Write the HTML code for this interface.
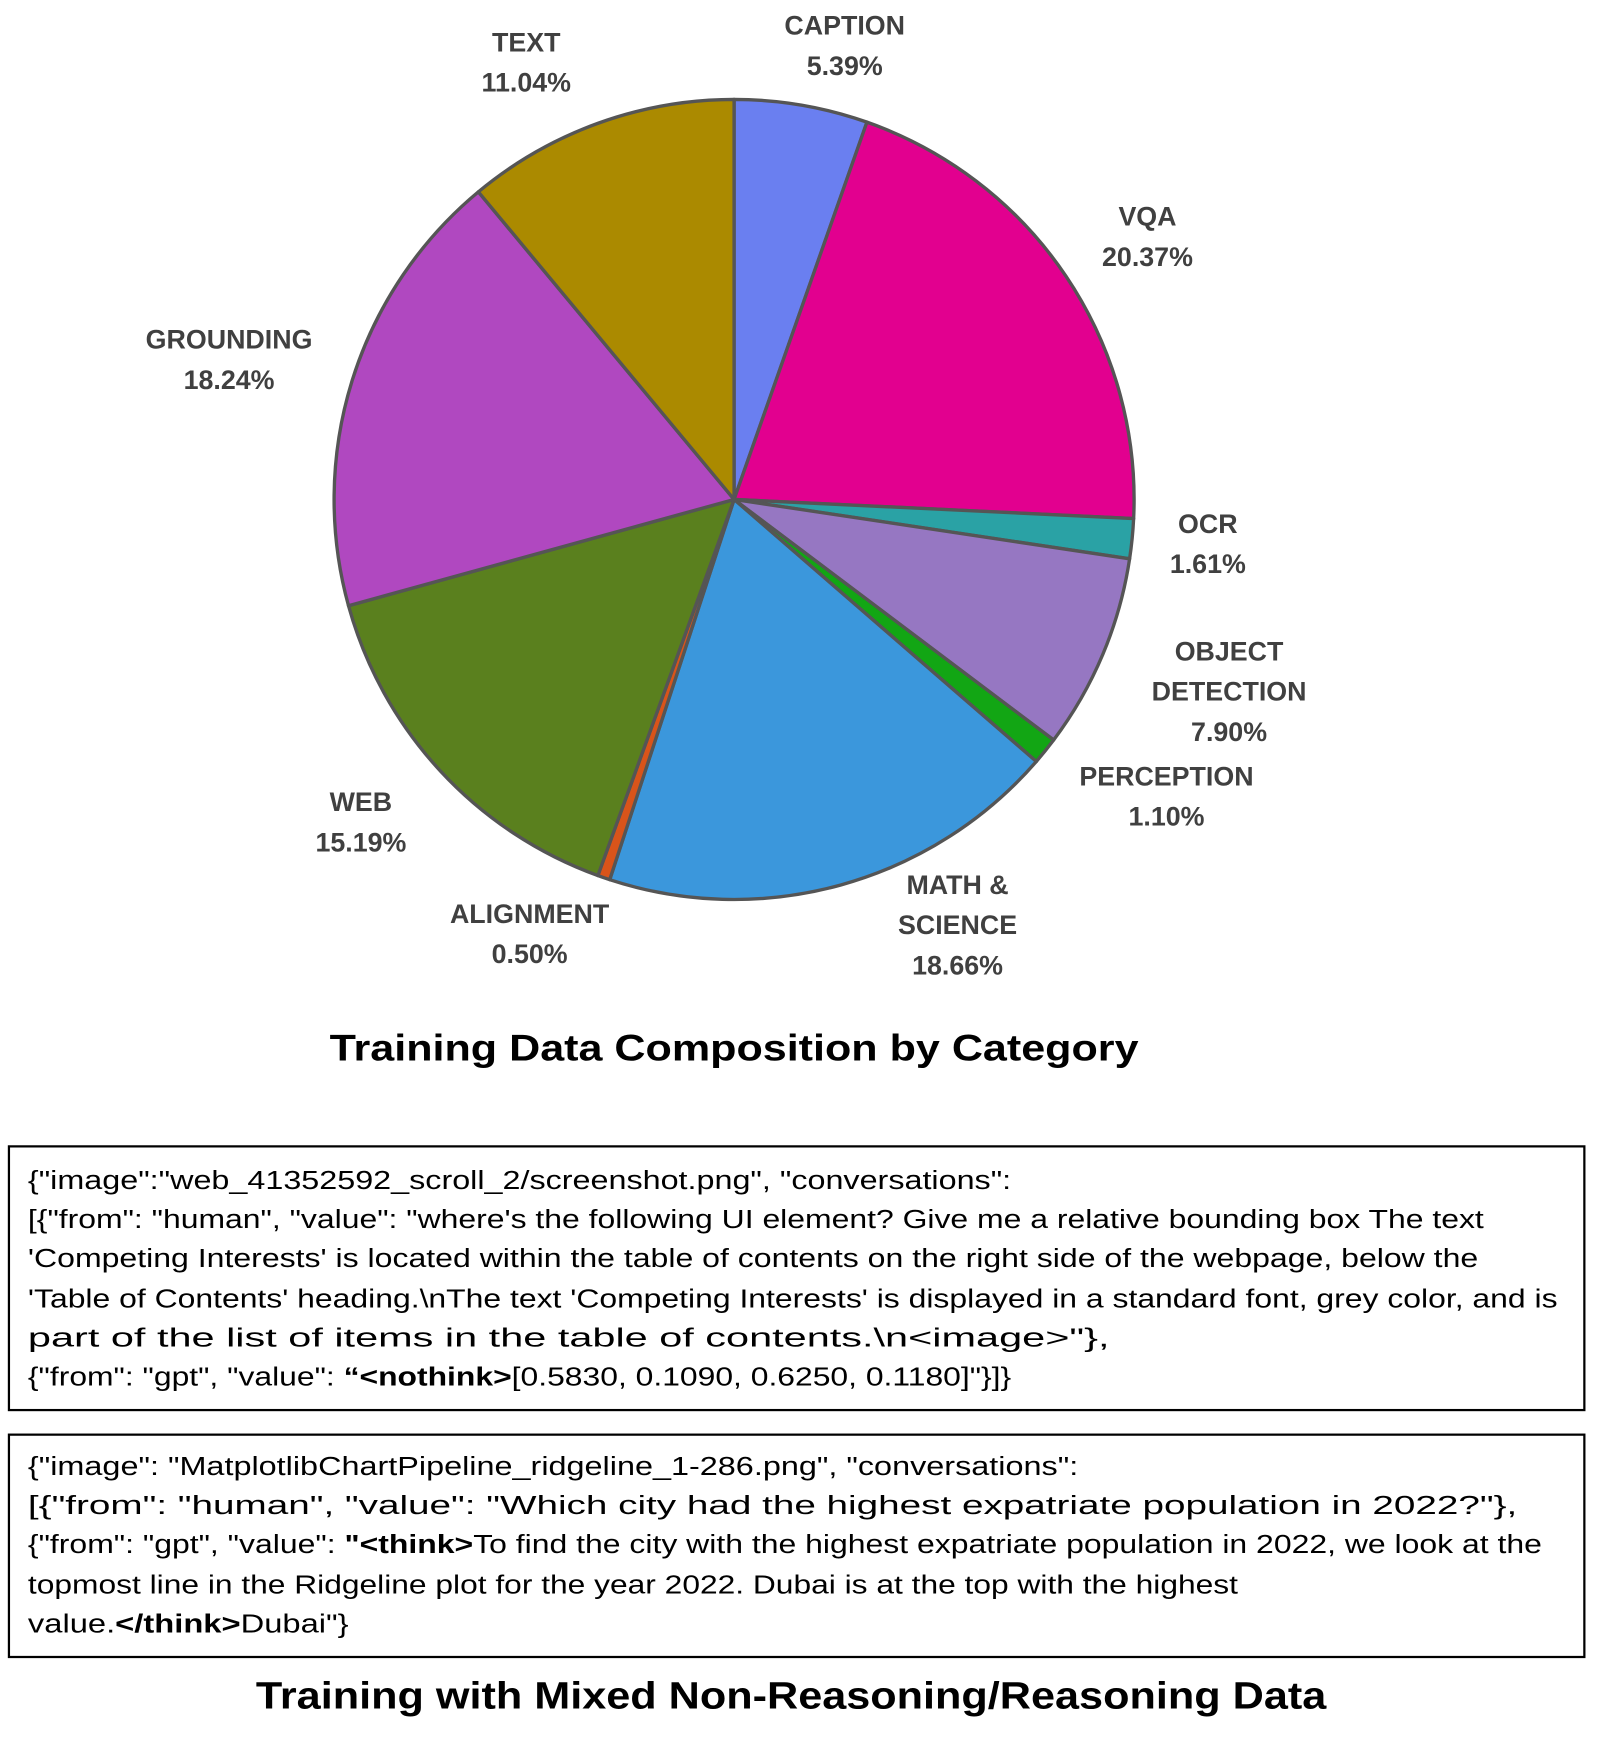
<!DOCTYPE html>
<html><head><meta charset="utf-8"><style>
html,body{margin:0;padding:0;background:#fff;}
svg{display:block;}
.l{font-family:"Liberation Sans",sans-serif;font-weight:bold;font-size:24px;fill:#404040;text-anchor:middle;}
.t{font-family:"Liberation Sans",sans-serif;font-size:23px;fill:#000;}
.h{font-family:"Liberation Sans",sans-serif;font-weight:bold;fill:#000;text-anchor:middle;}
</style></head><body>
<svg width="1600" height="1755" viewBox="0 0 1432 1570.7" xmlns="http://www.w3.org/2000/svg">
<g stroke="#555" stroke-width="3" stroke-linejoin="round">
<path d="M657,447 L657,89 A358,358 0 0 1 775.9,109.3 Z" fill="#6a7ff0"/>
<path d="M657,447 L775.9,109.3 A358,358 0 0 1 1014.6,464.1 Z" fill="#e2008f"/>
<path d="M657,447 L1014.6,464.1 A358,358 0 0 1 1011.0,500.1 Z" fill="#2aa2a5"/>
<path d="M657,447 L1011.0,500.1 A358,358 0 0 1 943.0,662.3 Z" fill="#9677c2"/>
<path d="M657,447 L943.0,662.3 A358,358 0 0 1 927.5,681.5 Z" fill="#12a614"/>
<path d="M657,447 L927.5,681.5 A358,358 0 0 1 545.7,787.3 Z" fill="#3b97dc"/>
<path d="M657,447 L545.7,787.3 A358,358 0 0 1 535.1,783.6 Z" fill="#d9541a"/>
<path d="M657,447 L535.1,783.6 A358,358 0 0 1 311.9,542.1 Z" fill="#5a801e"/>
<path d="M657,447 L311.9,542.1 A358,358 0 0 1 428.1,171.7 Z" fill="#b048c0"/>
<path d="M657,447 L428.1,171.7 A358,358 0 0 1 657,89 Z" fill="#ab8a00"/>
</g>
<text class="l" x="471" y="46">TEXT</text><text class="l" x="471" y="82">11.04%</text>
<text class="l" x="756" y="31">CAPTION</text><text class="l" x="756" y="67">5.39%</text>
<text class="l" x="1027" y="202">VQA</text><text class="l" x="1027" y="238">20.37%</text>
<text class="l" x="1081" y="477">OCR</text><text class="l" x="1081" y="513">1.61%</text>
<text class="l" x="1100" y="591">OBJECT</text><text class="l" x="1100" y="627">DETECTION</text><text class="l" x="1100" y="663">7.90%</text>
<text class="l" x="1044" y="703">PERCEPTION</text><text class="l" x="1044" y="739">1.10%</text>
<text class="l" x="857" y="800">MATH &amp;</text><text class="l" x="857" y="836">SCIENCE</text><text class="l" x="857" y="872">18.66%</text>
<text class="l" x="474" y="826">ALIGNMENT</text><text class="l" x="474" y="862">0.50%</text>
<text class="l" x="323" y="726">WEB</text><text class="l" x="323" y="762">15.19%</text>
<text class="l" x="205" y="312">GROUNDING</text><text class="l" x="205" y="348">18.24%</text>
<text class="h" x="657" y="949" font-size="33" textLength="724" lengthAdjust="spacingAndGlyphs">Training Data Composition by Category</text>
<rect x="8" y="1026" width="1410" height="236" fill="none" stroke="#000" stroke-width="2"/>
<text class="t" x="25" y="1064" textLength="880" lengthAdjust="spacingAndGlyphs">{"image":"web_41352592_scroll_2/screenshot.png", "conversations":</text>
<text class="t" x="25" y="1099" textLength="1303" lengthAdjust="spacingAndGlyphs">[{"from": "human", "value": "where's the following UI element?  Give me a relative bounding box The text</text>
<text class="t" x="25" y="1134" textLength="1298" lengthAdjust="spacingAndGlyphs">'Competing Interests' is located within the table of contents on the right side of the webpage, below the</text>
<text class="t" x="25" y="1170" textLength="1369" lengthAdjust="spacingAndGlyphs">'Table of Contents' heading.\nThe text 'Competing Interests' is displayed in a standard font, grey color, and is</text>
<text class="t" x="25" y="1205" textLength="968" lengthAdjust="spacingAndGlyphs">part of the list of items in the table of contents.\n&lt;image&gt;"},</text>
<text class="t" x="25" y="1240" textLength="880" lengthAdjust="spacingAndGlyphs">{"from": "gpt", "value": <tspan font-weight="bold">“&lt;nothink&gt;</tspan>[0.5830, 0.1090, 0.6250, 0.1180]"}]}</text>
<rect x="8" y="1284" width="1410" height="199" fill="none" stroke="#000" stroke-width="2"/>
<text class="t" x="25" y="1320" textLength="940" lengthAdjust="spacingAndGlyphs">{"image": "MatplotlibChartPipeline_ridgeline_1-286.png", "conversations":</text>
<text class="t" x="25" y="1355" textLength="1333" lengthAdjust="spacingAndGlyphs">[{"from": "human", "value": "Which city had the highest expatriate population in 2022?"},</text>
<text class="t" x="25" y="1390" textLength="1355" lengthAdjust="spacingAndGlyphs">{"from": "gpt", "value": <tspan font-weight="bold">"&lt;think&gt;</tspan>To find the city with the highest expatriate population in 2022, we look at the</text>
<text class="t" x="25" y="1426" textLength="1083" lengthAdjust="spacingAndGlyphs">topmost line in the Ridgeline plot for the year 2022. Dubai is at the top with the highest</text>
<text class="t" x="25" y="1461" textLength="287" lengthAdjust="spacingAndGlyphs">value.<tspan font-weight="bold">&lt;/think&gt;</tspan>Dubai"}</text>
<text class="h" x="708" y="1529" font-size="34" textLength="958" lengthAdjust="spacingAndGlyphs">Training with Mixed Non-Reasoning/Reasoning Data</text>
</svg>
</body></html>
